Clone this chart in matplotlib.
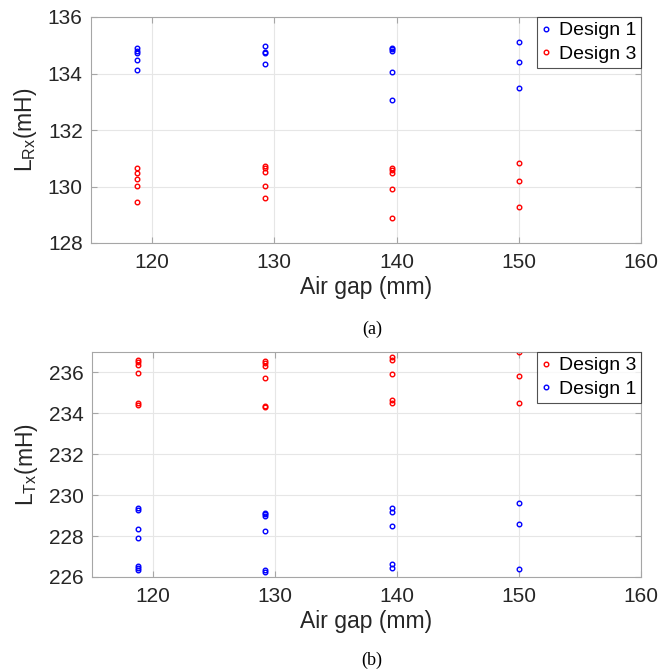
import numpy as np
import matplotlib.pyplot as plt

plt.rcParams['font.family'] = ['Liberation Sans', 'DejaVu Sans']
plt.rcParams['mathtext.fontset'] = 'custom'
plt.rcParams['mathtext.rm'] = 'Liberation Sans'

# (a) receiver inductance vs air gap
rx_gap_d1 = [118.8]*5 + [129.2]*4 + [139.6]*5 + [150.0]*3
rx_d1 = [134.89, 134.81, 134.74, 134.47, 134.12,
         134.97, 134.76, 134.71, 134.34,
         134.91, 134.86, 134.80, 134.06, 133.07,
         135.13, 134.41, 133.48]
rx_gap_d3 = [118.8]*5 + [129.2]*5 + [139.6]*5 + [150.0]*3
rx_d3 = [130.67, 130.48, 130.27, 130.02, 129.44,
         130.74, 130.67, 130.50, 130.02, 129.60,
         130.67, 130.58, 130.49, 129.90, 128.87,
         130.82, 130.21, 129.29]

# (b) transmitter inductance vs air gap
tx_gap_d3 = [118.8]*6 + [129.2]*6 + [139.6]*5 + [150.0]*3
tx_d3 = [236.63, 236.52, 236.35, 235.95, 234.49, 234.43,
         236.58, 236.46, 236.34, 235.71, 234.38, 234.33,
         236.78, 236.63, 235.94, 234.66, 234.49,
         236.99, 235.84, 234.51]
tx_gap_d1 = [118.8]*7 + [129.2]*6 + [139.6]*5 + [150.0]*3
tx_d1 = [229.39, 229.29, 228.35, 227.90, 226.54, 226.44, 226.32,
         229.15, 229.07, 228.98, 228.24, 226.35, 226.26,
         229.36, 229.19, 228.48, 226.64, 226.44,
         229.60, 228.58, 226.41]

W, H = 658, 672
fig = plt.figure(figsize=(W/100, H/100), dpi=100)

def ax_at(l, t, r, b):
    return fig.add_axes([l/W, 1 - b/H, (r - l)/W, (b - t)/H])

def style(ax, ylim, yticks, ylabel):
    ax.set_xlim(115, 160)
    ax.set_ylim(*ylim)
    ax.set_xticks([120, 130, 140, 150, 160])
    ax.set_yticks(yticks)
    ax.grid(True, color='#e6e6e6', linewidth=0.8)
    ax.set_axisbelow(True)
    for s in ax.spines.values():
        s.set_color('#a6a6a6')
    ax.tick_params(direction='in', length=4, color='#a6a6a6', labelsize=15,
                   labelcolor='#262626', right=True, top=True)
    ax.tick_params(axis='x', pad=7)
    ax.tick_params(axis='y', pad=6)
    ax.set_xlabel('Air gap (mm)', fontsize=16.5, color='#262626', labelpad=3)
    ax.set_ylabel(ylabel, fontsize=16.5, color='#262626', labelpad=6)

mk = dict(marker='o', linestyle='none', markersize=3.3, markerfacecolor='none',
          markeredgewidth=1.0)
leg = dict(loc='upper right', fontsize=14, frameon=True, fancybox=False,
           edgecolor='#262626', handlelength=0.4, handletextpad=0.45,
           borderaxespad=0.0, borderpad=0.25, labelspacing=0.3)

ax1 = ax_at(91, 17, 641, 243)
ax1.plot(rx_gap_d1, rx_d1, color='#0000ff', label='Design 1', **mk)
ax1.plot(rx_gap_d3, rx_d3, color='#ff0000', label='Design 3', **mk)
style(ax1, (128, 136), range(128, 137, 2), 'L$_{\\mathregular{Rx}}$(mH)')
ax1.legend(**leg).get_frame().set_linewidth(0.8)

ax2 = ax_at(92, 352, 641, 577)
ax2.plot(tx_gap_d3, tx_d3, color='#ff0000', label='Design 3', **mk)
ax2.plot(tx_gap_d1, tx_d1, color='#0000ff', label='Design 1', **mk)
style(ax2, (226, 237), range(226, 237, 2), 'L$_{\\mathregular{Tx}}$(mH)')
ax2.legend(**leg).get_frame().set_linewidth(0.8)

fig.text(372/W, 1 - 329/H, '(a)', ha='center', va='center',
         fontsize=13, family='Liberation Serif')
fig.text(372/W, 1 - 660/H, '(b)', ha='center', va='center',
         fontsize=13, family='Liberation Serif')

fig.savefig('out.png', dpi=100)
